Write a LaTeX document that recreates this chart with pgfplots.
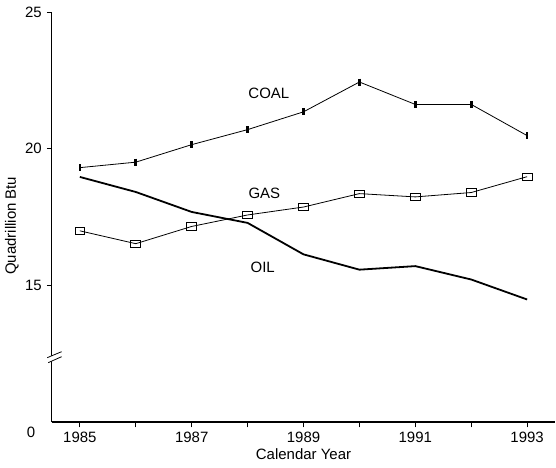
\documentclass[border=0pt]{standalone}
\usepackage{fontspec}
\setmainfont{Liberation Sans}
\usepackage{pgfplots}
\pgfplotsset{compat=1.18}
\begin{document}
\fontsize{15bp}{18bp}\selectfont
\begin{tikzpicture}
\begin{axis}[
  scale only axis, width=504bp, height=411bp,
  xmin=1984.5, xmax=1993.5, ymin=10, ymax=25,
  axis x line*=bottom, axis y line*=left,
  x axis line style={line width=1.8bp, -},
  y axis line style={line width=1bp, -},
  xtick={1985,1987,...,1993}, minor xtick={1986,1988,...,1992},
  ytick={15,20,25},
  tick align=outside, major tick length=5bp, minor tick length=5bp,
  every tick/.style={black, line width=0.8bp},
  /pgf/number format/1000 sep={},
  /pgf/number format/assume math mode=true,
  ticklabel style={font=\fontsize{15bp}{18bp}\selectfont},
  xlabel={Calendar Year},
  ylabel={Quadrillion Btu},
  xlabel style={at={(axis description cs:0.5,-0.078)}, anchor=center},
  ylabel style={at={(axis description cs:-0.0794,0.479)}, anchor=center},
  clip=false,
]
% COAL
\addplot[black, line width=0.8bp, mark=|, mark size=3.5bp, mark options={line width=2.6bp}]
  coordinates {(1985,19.31) (1986,19.51) (1987,20.15) (1988,20.70) (1989,21.35) (1990,22.44) (1991,21.62) (1992,21.62) (1993,20.48)};
% GAS
\addplot[black, line width=0.8bp, mark=square, mark size=3.6bp, mark options={xscale=1.35, line width=0.9bp, fill=none}]
  coordinates {(1985,17.00) (1986,16.53) (1987,17.16) (1988,17.58) (1989,17.87) (1990,18.36) (1991,18.24) (1992,18.40) (1993,18.98)};
% OIL
\addplot[black, line width=1.8bp, no marks]
  coordinates {(1985,18.97) (1986,18.42) (1987,17.69) (1988,17.29) (1989,16.14) (1990,15.58) (1991,15.71) (1992,15.22) (1993,14.49)};
\node at (axis cs:1988.38,22.03) {COAL};
\node at (axis cs:1988.30,18.37) {GAS};
\node at (axis cs:1988.27,15.66) {OIL};
\node at (axis cs:1984.5,10) [xshift=-21bp, yshift=-10bp] {0};
% axis break
\fill[white] ([xshift=-4.7bp,yshift=2bp]axis cs:1984.5,12.29) -- ([xshift=9.7bp,yshift=8bp]axis cs:1984.5,12.29) -- ([xshift=9.7bp,yshift=3bp]axis cs:1984.5,12.29) -- ([xshift=-3.7bp,yshift=-3bp]axis cs:1984.5,12.29) -- cycle;
\draw[line width=0.8bp] ([xshift=-4.7bp,yshift=2bp]axis cs:1984.5,12.29) -- ([xshift=9.7bp,yshift=8bp]axis cs:1984.5,12.29);
\draw[line width=0.8bp] ([xshift=-3.7bp,yshift=-3bp]axis cs:1984.5,12.29) -- ([xshift=9.7bp,yshift=3bp]axis cs:1984.5,12.29);
\end{axis}
\path ([xshift=-52bp,yshift=-45bp]current axis.south west) rectangle ([yshift=12bp]current axis.north east);
\end{tikzpicture}
\end{document}
